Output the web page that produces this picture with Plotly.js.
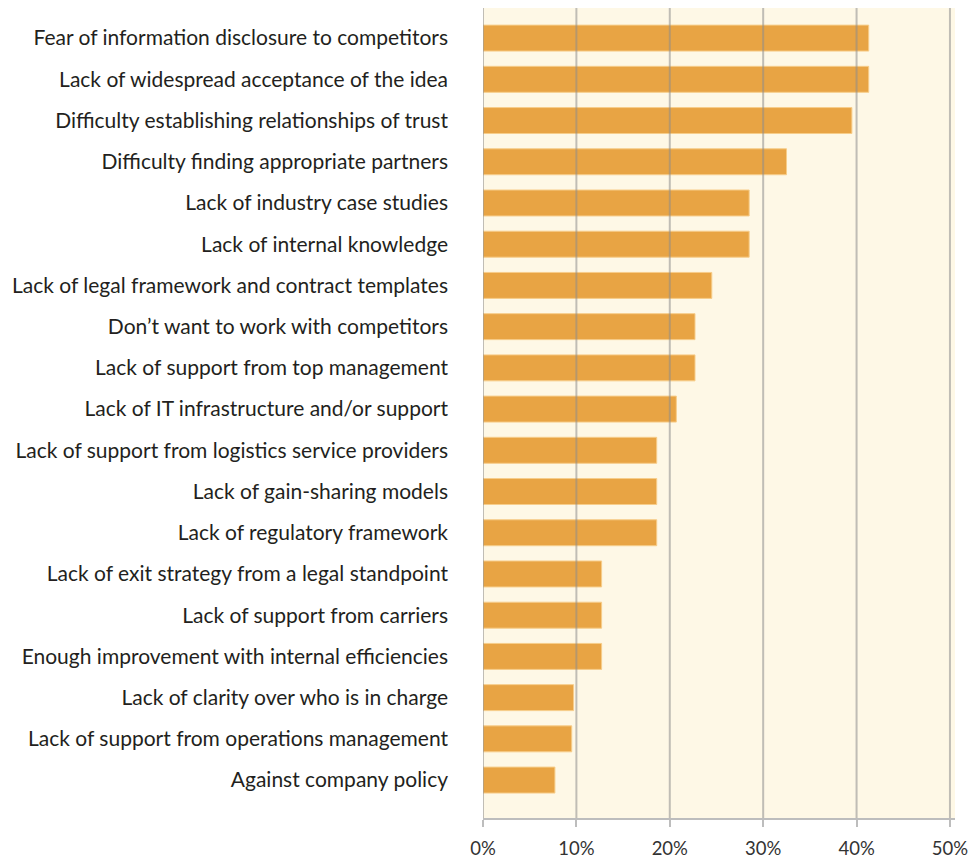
<!DOCTYPE html>
<html>
<head>
<meta charset="utf-8">
<script src="https://cdn.plot.ly/plotly-3.0.1.min.js"></script>
<style>html,body{margin:0;padding:0;background:#fff;}#chart{width:976px;height:861px;}</style>
</head>
<body>
<div id="chart"></div>
<script>
const categories = [
  "Fear of information disclosure to competitors",
  "Lack of widespread acceptance of the idea",
  "Difficulty establishing relationships of trust",
  "Difficulty finding appropriate partners",
  "Lack of industry case studies",
  "Lack of internal knowledge",
  "Lack of legal framework and contract templates",
  "Don\u2019t want to work with competitors",
  "Lack of support from top management",
  "Lack of IT infrastructure and/or support",
  "Lack of support from logistics service providers",
  "Lack of gain-sharing models",
  "Lack of regulatory framework",
  "Lack of exit strategy from a legal standpoint",
  "Lack of support from carriers",
  "Enough improvement with internal efficiencies",
  "Lack of clarity over who is in charge",
  "Lack of support from operations management",
  "Against company policy"
];
const values = [41.3, 41.3, 39.5, 32.5, 28.5, 28.5, 24.5, 22.7, 22.7, 20.7, 18.6, 18.6, 18.6, 12.7, 12.7, 12.7, 9.7, 9.5, 7.7];
const tickValues = [0, 10, 20, 30, 40, 50];
const tickLabels = ["0%", "10%", "20%", "30%", "40%", "50%"];

const gridShapes = tickValues.map(v => ({
  type: 'line', xref: 'x', yref: 'paper', x0: v, x1: v, y0: 0, y1: 1,
  layer: 'above', line: {color: 'rgba(140,140,140,0.55)', width: 2}
}));

const trace = {
  type: 'bar', orientation: 'h',
  x: values, y: categories,
  marker: {color: '#E8A444', line: {color: '#F7CD8A', width: 1}},
  hoverinfo: 'x+y'
};

const layout = {
  width: 976, height: 861,
  margin: {l: 483, r: 21, t: 8, b: 43},
  paper_bgcolor: '#ffffff',
  plot_bgcolor: '#FEF8E6',
  bargap: 0.37,
  showlegend: false,
  font: {family: 'Lato, "Open Sans", sans-serif', color: '#231F20'},
  xaxis: {
    range: [0, 50.54],
    tickvals: tickValues, ticktext: tickLabels,
    showgrid: false, zeroline: false,
    showline: true, linecolor: '#BDBDBD', linewidth: 2,
    ticks: 'outside', ticklen: 7, tickwidth: 2, tickcolor: '#BDBDBD',
    tickfont: {size: 18.5, color: '#333333'},
    ticklabelstandoff: 6,
    fixedrange: true
  },
  yaxis: {
    type: 'category',
    range: [18.92, -0.73],
    showgrid: false, zeroline: false, showline: false,
    ticks: '',
    tickfont: {size: 21, color: '#231F20'},
    ticklabelstandoff: 34,
    fixedrange: true
  },
  shapes: gridShapes
};

Plotly.newPlot('chart', [trace], layout, {displayModeBar: false, staticPlot: true});
</script>
</body>
</html>
